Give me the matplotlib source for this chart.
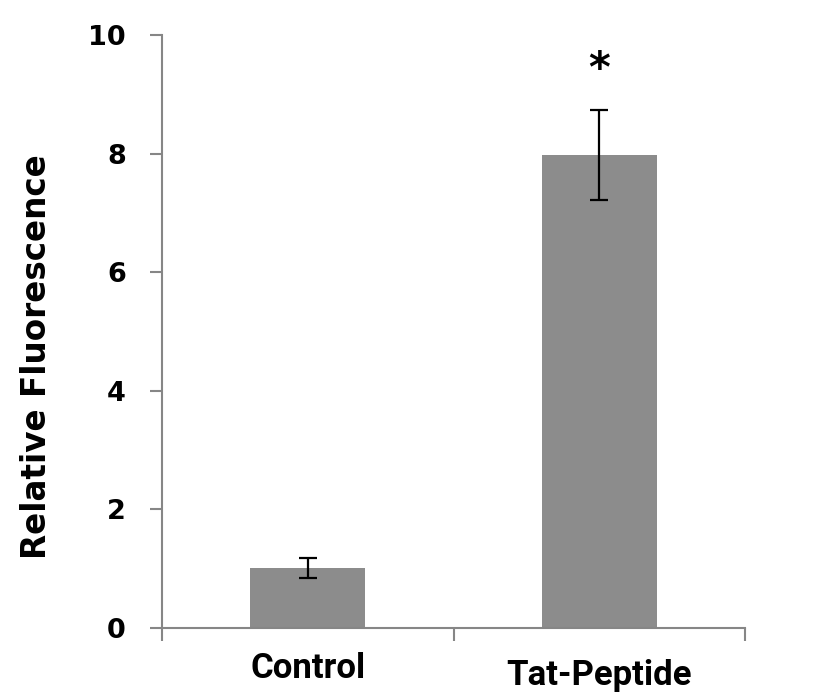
import matplotlib
matplotlib.use("Agg")
import matplotlib.pyplot as plt
from matplotlib.transforms import ScaledTranslation

categories = ["Control", "Tat-Peptide"]
values = [1.01, 7.98]
errors = [0.17, 0.76]
sig_marks = ["", "*"]
y_ticks = [0, 2, 4, 6, 8, 10]

fig = plt.figure(figsize=(8.16, 7.0), dpi=100)
ax = fig.add_axes([162/816, 72/700, (745-162)/816, (628-35)/700])

x = list(range(len(categories)))
ax.bar(x, values, width=0.395, color="#8c8c8c", zorder=2)
ax.errorbar(x, values, yerr=errors, fmt="none", ecolor="black",
            elinewidth=1.6, capsize=6.5, capthick=1.6, zorder=3)
for xi, v, e, m in zip(x, values, errors, sig_marks):
    if m:
        ax.text(xi, v + e + 0.67, m, ha="center", va="center",
                fontsize=30, fontweight="bold", family=["DejaVu Sans"], color="black")

ax.set_xlim(-0.5, len(categories) - 0.5)
ax.set_ylim(0, 10)
ax.set_yticks(y_ticks)
ax.set_yticklabels([str(t) for t in y_ticks], fontsize=19.5, fontweight="bold",
                   family=["DejaVu Sans"])
ax.set_xticks([-0.5, 0.5, 1.5])
ax.set_xticklabels([])
ax.set_xticks(x, minor=True)
ax.set_xticklabels(categories, minor=True, fontsize=25, fontweight="bold",
                   family=["Roboto", "DejaVu Sans"])
ax.tick_params(axis="x", which="minor", length=0, pad=17)
ax.tick_params(axis="x", which="major", length=9, width=1.5, color="#868686", direction="out")
ax.tick_params(axis="y", length=9, width=1.5, color="#868686", direction="out", pad=17)

for lbl in ax.get_xticklabels(minor=True):
    if lbl.get_text() == "Tat-Peptide":
        lbl.set_transform(lbl.get_transform() + ScaledTranslation(0, -7/100, fig.dpi_scale_trans))

for s in ["top", "right"]:
    ax.spines[s].set_visible(False)
for s in ["left", "bottom"]:
    ax.spines[s].set_color("#868686")
    ax.spines[s].set_linewidth(1.5)

ax.set_ylabel("Relative Fluorescence", fontsize=23.5, fontweight="bold",
              family=["DejaVu Sans"])
ax.yaxis.set_label_coords((53 - 162) / 583, (628 - 357) / 593)

fig.savefig("out.png", dpi=100)
